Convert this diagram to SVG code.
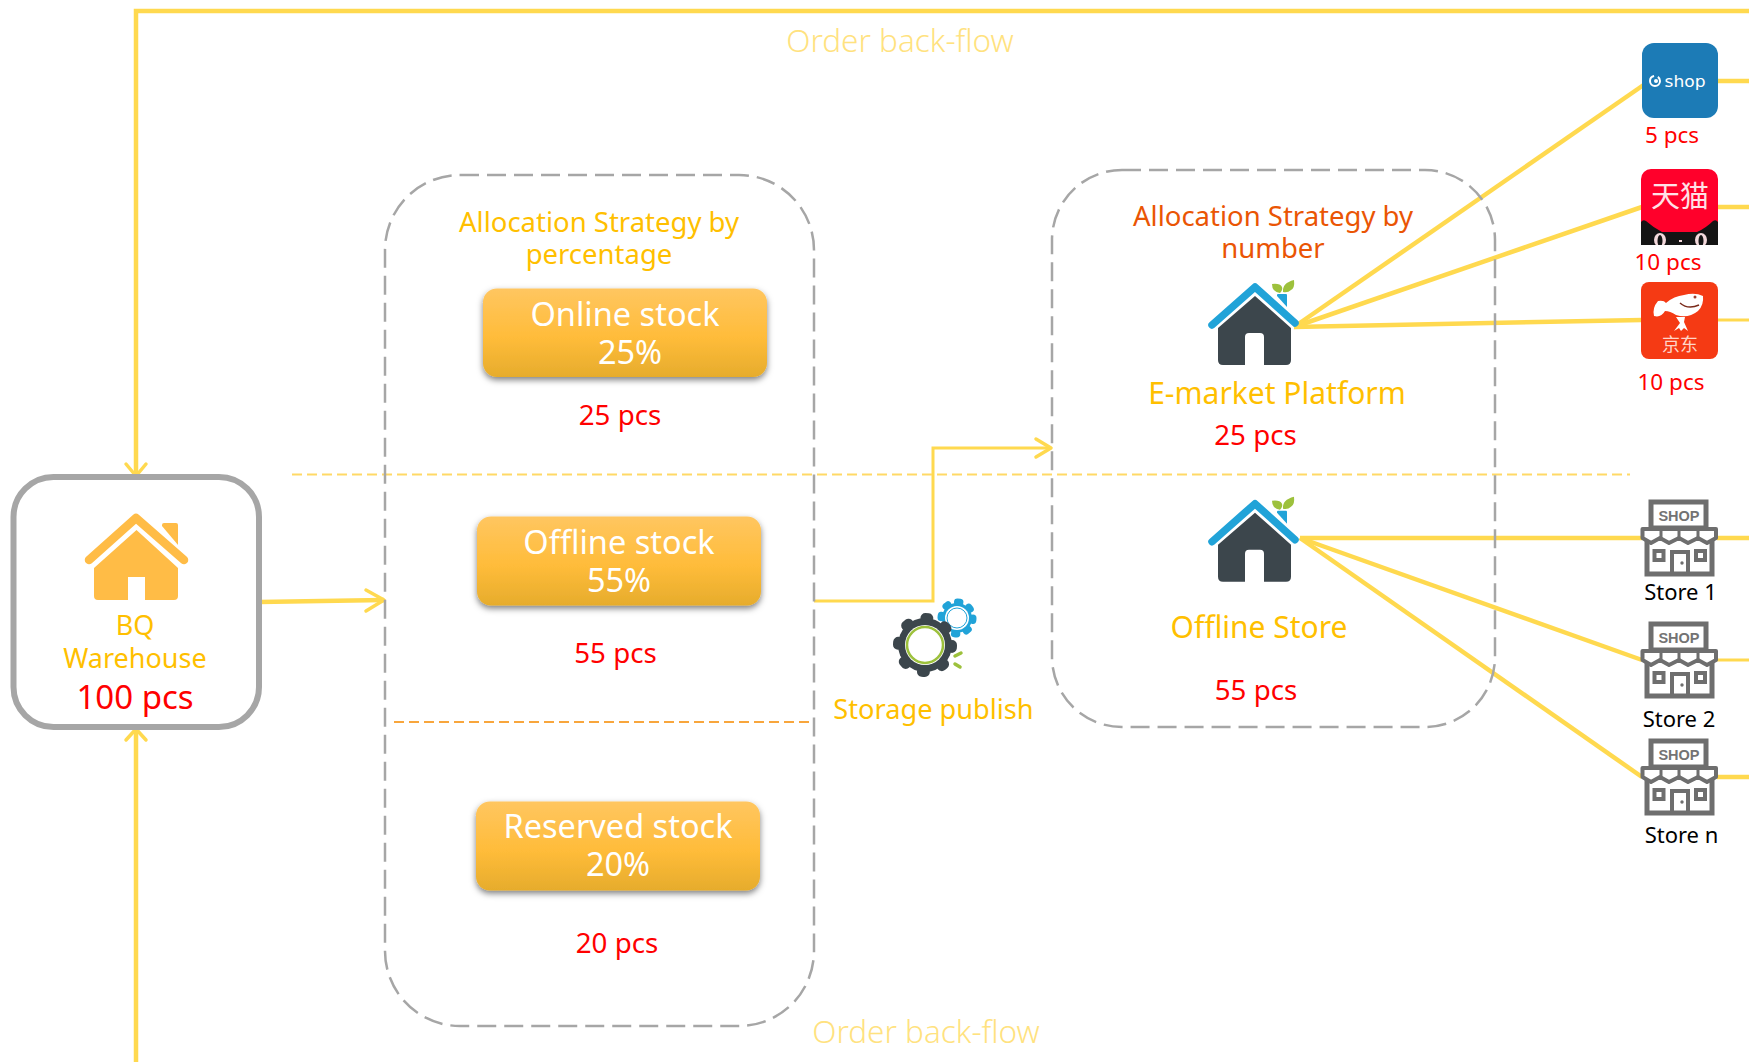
<svg xmlns="http://www.w3.org/2000/svg" xmlns:xlink="http://www.w3.org/1999/xlink" width="1749" height="1062" viewBox="0 0 1749 1062">
<style>
text{font-family:"Noto Sans","Open Sans","Liberation Sans",sans-serif;text-anchor:middle}
.line{fill:none;stroke:#FFD94F;stroke-width:4.500}
.thin{fill:none;stroke:#FFD94F;stroke-width:3}
.head{fill:none;stroke:#FFD94F;stroke-width:3.500;stroke-linecap:round;stroke-linejoin:round}
.dash{fill:none;stroke:#A6A6A6;stroke-width:2.500;stroke-dasharray:19 8}
.flow{font-size:31.500px;fill:#FFE27F;font-weight:300}
.or{fill:#FFBF00}
.red{fill:#FF0000}
.btn{font-size:32.500px;fill:#fff}
.blk{fill:#000;font-size:22px}
</style>
<defs>
<linearGradient id="btn" x1="0" y1="0" x2="0" y2="1"><stop offset="0" stop-color="#FFC660"/><stop offset=".55" stop-color="#FFBC3A"/><stop offset="1" stop-color="#E6AC2C"/></linearGradient>
<filter id="sh" x="-10%" y="-20%" width="120%" height="150%"><feDropShadow dx="0" dy="3" stdDeviation="3" flood-color="#000" flood-opacity=".5"/></filter>
<g id="dark-house">
<path d="M32 65L75 27L115 63" fill="none" stroke="#21A3D8" stroke-width="7.500" stroke-linecap="round" stroke-linejoin="round"/>
<path d="M97 36V35q0-1 1-1h8q1 0 1 1V47z" fill="#21A3D8"/>
<path d="M38 68L75 36L111 68V100q0 5-5 5H84V77q0-4-4-4H69q-4 0-4 4V105H43q-5 0-5-5z" fill="#3C464C"/>
<path d="M100 33q-8-1-8-9q8-1 10 3q1 3-2 6zM103 32q-1-9 11-12q1 8-3 10q-3 3-8 2z" fill="#9DC13C"/>
</g>
<g id="store">
<rect x="10" y="2" width="55" height="26" fill="#fff" stroke="#6E6E6E" stroke-width="5"/>
<text x="38" y="20.500" style="font-size:14.500px;font-weight:700;fill:#737373;font-family:'Liberation Sans',sans-serif">SHOP</text>
<path d="M6 36V74H71V36" fill="#fff" stroke="#6E6E6E" stroke-width="5"/>
<path d="M1.500 29H75V38L66 43L57 38L47 43L38 38L28 43L19 38L10 43L1.500 38Z" fill="#fff" stroke="#6E6E6E" stroke-width="4" stroke-linejoin="round"/>
<path d="M20 29V38M38 29V38M57 29V38" stroke="#6E6E6E" stroke-width="3"/>
<rect x="13.500" y="51" width="9" height="9" fill="#fff" stroke="#6E6E6E" stroke-width="4"/>
<rect x="55" y="51" width="9" height="9" fill="#fff" stroke="#6E6E6E" stroke-width="4"/>
<path d="M31 74V52H47V74" fill="none" stroke="#6E6E6E" stroke-width="4"/>
<circle cx="41" cy="63" r="1.700" fill="#6E6E6E"/>
</g>
</defs>
<rect width="1749" height="1062" fill="#fff"/>

<g id="connectors">
<path class="line" d="M1749 11H136V475"/>
<path class="head" d="M126 464L136 476L146 464"/>
<path class="line" d="M136 1062V729"/>
<path class="head" d="M126 740L136 729L146 740"/>
<path class="line" d="M259 602L384 600"/>
<path class="head" d="M366 590L384 600L366 611"/>
<path class="thin" d="M814 601H933V448H1050"/>
<path class="head" d="M1036 439L1051 448L1036 457"/>
<path class="line" d="M1294 327L1645 84"/>
<path class="line" d="M1294 327L1642 207"/>
<path class="line" d="M1294 327L1642 320"/>
<path class="line" d="M1300 538H1642"/>
<path class="line" d="M1300 538L1642 660"/>
<path class="line" d="M1300 538L1642 777"/>
<path class="line" d="M1717 81H1749"/>
<path class="line" d="M1717 207H1749"/>
<path class="thin" d="M1717 320H1749"/>
<path class="line" d="M1717 538H1749"/>
<path class="thin" d="M1717 660H1749"/>
<path class="line" d="M1717 777H1749"/>
</g>

<g id="dividers">
<path d="M292 474.500H1630" fill="none" stroke="#FFD966" stroke-width="2" stroke-dasharray="10 5"/>
<path d="M394 722H810" fill="none" stroke="#F8A63C" stroke-width="2" stroke-dasharray="10 5"/>
</g>

<text class="flow" x="900" y="52">Order back-flow</text>
<text class="flow" x="926" y="1043">Order back-flow</text>

<g id="warehouse">
<rect x="13.500" y="477" width="245.500" height="250" rx="40" fill="#fff" stroke="#A6A6A6" stroke-width="6"/>
<path d="M89 560L136 518L184 560" fill="none" stroke="#FFBC46" stroke-width="8.500" stroke-linecap="round" stroke-linejoin="round"/>
<path d="M162 526V525q0-2 2-2h12q2 0 2 2v20z" fill="#FFBC46"/>
<path d="M94 568L136.500 530L178 568V596q0 4-4 4H145V577H128V600H98q-4 0-4-4z" fill="#FFBC46"/>
<text x="135" y="635" class="or" font-size="27">BQ</text>
<text x="135" y="668" class="or" font-size="27">Warehouse</text>
<text x="135" y="709" class="red" font-size="33">100 pcs</text>
</g>

<g id="strategy-percentage">
<rect x="385" y="175" width="429" height="851" rx="75" fill="none" class="dash"/>
<text x="599" y="232" class="or" font-size="27.500">Allocation Strategy by</text>
<text x="599" y="264" class="or" font-size="27.500">percentage</text>
</g>

<g id="online-stock">
<rect x="483" y="288.500" width="284" height="88.500" rx="14" fill="url(#btn)" filter="url(#sh)"/>
<text x="625" y="326" class="btn">Online stock</text>
<text x="630" y="364" class="btn">25%</text>
<text x="620" y="425" class="red" font-size="27.700">25 pcs</text>
</g>
<g id="offline-stock">
<rect x="477" y="516.500" width="284" height="89" rx="14" fill="url(#btn)" filter="url(#sh)"/>
<text x="619" y="554" class="btn">Offline stock</text>
<text x="619" y="592" class="btn">55%</text>
<text x="615.500" y="663" class="red" font-size="27.700">55 pcs</text>
</g>
<g id="reserved-stock">
<rect x="476" y="801.500" width="284" height="89" rx="14" fill="url(#btn)" filter="url(#sh)"/>
<text x="618" y="838" class="btn">Reserved stock</text>
<text x="618" y="876" class="btn">20%</text>
<text x="617" y="953" class="red" font-size="27.700">20 pcs</text>
</g>

<g id="storage-publish">
<circle cx="957" cy="618" r="15" fill="#21A3D8"/>
<circle cx="957" cy="618" r="16" fill="none" stroke="#21A3D8" stroke-width="7" stroke-dasharray="2.500 10.070" stroke-linecap="round"/>
<circle cx="957" cy="618" r="12" fill="#fff"/>
<circle cx="957" cy="618" r="10" fill="none" stroke="#21A3D8" stroke-width="1"/>
<circle cx="925" cy="645" r="27" fill="#3C464C"/>
<circle cx="925" cy="645" r="27" fill="none" stroke="#3C464C" stroke-width="10" stroke-dasharray="3 18.200" stroke-linecap="round"/>
<circle cx="925" cy="645" r="20" fill="#fff"/>
<circle cx="925" cy="645" r="18" fill="none" stroke="#9DC13C" stroke-width="2.500"/>
<path d="M955 656L961 653M955 664L960 667" stroke="#9DC13C" stroke-width="3.500" stroke-linecap="round"/>
<text x="933.500" y="719" class="or" font-size="27.200">Storage publish</text>
</g>

<g id="strategy-number">
<rect x="1052" y="170" width="443" height="557" rx="70" fill="none" class="dash"/>
<text x="1273" y="226" fill="#EA5504" font-size="27.500">Allocation Strategy by</text>
<text x="1273" y="258" fill="#EA5504" font-size="27.500">number</text>
</g>

<g id="e-market">
<use xlink:href="#dark-house" href="#dark-house" transform="translate(1180 260)"/>
<text x="1277" y="404" class="or" font-size="30">E-market Platform</text>
<text x="1255.500" y="445" class="red" font-size="27.700">25 pcs</text>
</g>
<g id="offline-store">
<use xlink:href="#dark-house" href="#dark-house" transform="translate(1180 476.700)"/>
<text x="1259" y="638" class="or" font-size="30">Offline Store</text>
<text x="1256" y="700" class="red" font-size="27.700">55 pcs</text>
</g>

<g id="shop-logo">
<rect x="1642" y="43" width="76" height="75" rx="12" fill="#1C7BB6"/>
<circle cx="1655" cy="81" r="5" fill="none" stroke="#fff" stroke-width="2" stroke-dasharray="22 4"/>
<circle cx="1656" cy="81" r="2" fill="#fff"/>
<text x="1685" y="87" textLength="41" lengthAdjust="spacingAndGlyphs" style="font-size:15px;fill:#fff;font-family:'DejaVu Sans',sans-serif">shop</text>
<text x="1672" y="143" class="red" font-size="22.500">5 pcs</text>
</g>
<g id="tmall-logo">
<rect x="1641" y="169" width="77" height="76" rx="10" fill="#FF002B"/>
<path d="M1641 245V222Q1643 219 1646 221Q1654 228 1662 232H1697Q1706 228 1713 221Q1716 219 1718 222V245Z" fill="#141414"/>
<ellipse cx="1660" cy="240" rx="6" ry="7" fill="#F3D9DC"/>
<ellipse cx="1660" cy="241" rx="2.500" ry="6" fill="#141414"/>
<ellipse cx="1701" cy="240" rx="6" ry="7" fill="#F3D9DC"/>
<ellipse cx="1701" cy="241" rx="2.500" ry="6" fill="#141414"/>
<rect x="1679" y="240" width="3" height="2" fill="#F3D9DC"/>
<rect x="1641" y="245" width="77" height="2" fill="#fff"/>
<text x="1680" y="207" style="font-size:29px;fill:#FFE1E6;font-family:'Noto Sans CJK SC',sans-serif">天猫</text>
<text x="1668" y="270" class="red" font-size="22.500">10 pcs</text>
</g>
<g id="jd-logo">
<rect x="1641" y="282" width="77" height="77" rx="8" fill="#F53A14"/>
<path d="M1654 316Q1652 308 1658 301Q1664 300 1666 303Q1674 296 1684 295Q1695 292 1703 296Q1704 305 1698 311Q1688 319 1676 315Q1670 311 1665 311Q1661 318 1654 316Z" fill="#fff"/>
<path d="M1676 317L1680 323L1674 331L1679 328L1681 331L1684 328L1688 331L1684 322L1685 317Z" fill="#fff"/>
<path d="M1680 303Q1688 310 1699 305" fill="none" stroke="#7A2A1A" stroke-width="1.500"/>
<circle cx="1695" cy="297" r="1.500" fill="#A04030"/>
<text x="1680" y="351" style="font-size:18px;fill:#FFD5C8;font-family:'Noto Sans CJK SC',sans-serif">京东</text>
<text x="1671" y="390" class="red" font-size="22.500">10 pcs</text>
</g>

<g id="store-1"><use xlink:href="#store" href="#store" x="1641" y="500"/><text x="1680.500" y="600" class="blk">Store 1</text></g>
<g id="store-2"><use xlink:href="#store" href="#store" x="1641" y="622"/><text x="1679" y="727" class="blk">Store 2</text></g>
<g id="store-n"><use xlink:href="#store" href="#store" x="1641" y="739"/><text x="1681.500" y="843" class="blk">Store n</text></g>
</svg>
